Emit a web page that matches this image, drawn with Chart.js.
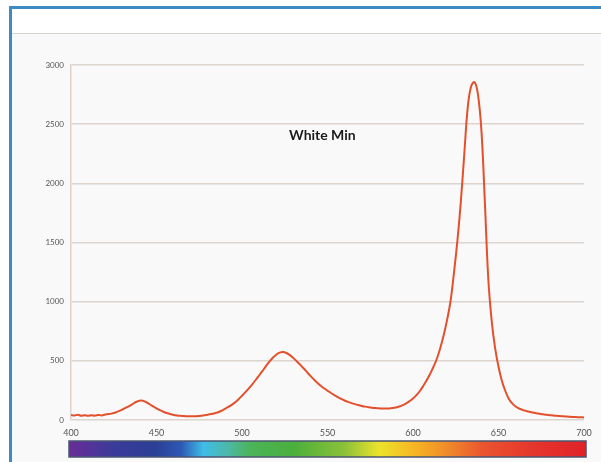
<!DOCTYPE html>
<html>
<head>
<meta charset="utf-8">
<script src="https://cdn.jsdelivr.net/npm/chart.js@4/dist/chart.umd.min.js"></script>
<style>
  html, body { margin: 0; padding: 0; background: #ffffff; }
  #frame { position: absolute; left: 9px; top: 6px; width: 592px; height: 456px;
           border-left: 3px solid #3b8cc5; border-top: 3px solid #3b8cc5; background: #ffffff; }
  #panel { position: absolute; left: 12px; top: 33px; width: 589px; height: 429px;
           border-top: 1px solid #d6d2ce; background: #f9f9f9; }
  #wrap { position: absolute; left: 0; top: 0; width: 601px; height: 462px; }
</style>
</head>
<body>
<div id="frame"></div>
<div id="panel"></div>
<div id="wrap"><canvas id="c" width="601" height="462"></canvas></div>
<script>
// Emission spectrum, 2 nm steps from 400 to 700 nm
const wavelengths = [];
for (let w = 400; w <= 700; w += 2) wavelengths.push(w);

const intensity = [
  42, 38, 44, 36, 41, 35, 40, 37, 43, 39,             // 400-418
  46, 50, 56, 64, 75, 88, 103, 118, 135, 152,         // 420-438
  163, 162, 150, 133, 115, 98, 83, 70, 59, 50,        // 440-458
  43, 38, 35, 33, 32, 31, 31, 33, 36, 41,             // 460-478
  45, 50, 57, 66, 78, 94, 110, 128, 150, 176,         // 480-498
  205, 236, 268, 302, 338, 376, 415, 455, 493, 526,   // 500-518
  552, 569, 574, 566, 548, 524, 497, 468, 437, 405,   // 520-538
  373, 343, 315, 290, 268, 248, 228, 210, 194, 179,   // 540-558
  165, 153, 143, 134, 126, 119, 113, 108, 104, 101,   // 560-578
  99, 97, 97, 98, 101, 106, 114, 125, 140, 160,       // 580-598
  182, 210, 245, 288, 335, 390, 450, 520, 610, 720,   // 600-618
  850, 1010, 1250, 1520, 1850, 2250, 2640, 2820, 2855, 2750, // 620-638
  2450, 1850, 1200, 840, 610, 450, 330, 245, 180, 140, // 640-658
  114, 97, 86, 77, 69, 63, 57, 52, 48, 44,            // 660-678
  41, 38, 35, 33, 31, 29, 27, 25, 24, 23,             // 680-698
  22                                                  // 700
];

const xTicks = [400, 450, 500, 550, 600, 650, 700];
const yTicks = [0, 500, 1000, 1500, 2000, 2500, 3000];
const chartTitle = 'White Min';

// visible spectrum colours for the strip under the axis
const spectrumStops = [
  [400, '#6a2c97'], [425, '#3b3a9a'], [450, '#2b3f96'], [465, '#2d58b5'],
  [478, '#3fbde8'], [492, '#4cb8a8'], [505, '#4cb45a'], [530, '#4aaf3c'],
  [560, '#8cc13a'], [580, '#ece32a'], [600, '#f6b624'], [620, '#ef8a2a'],
  [640, '#ea5530'], [670, '#e5352c'], [700, '#e02228']
];

const points = wavelengths.map((w, i) => ({ x: w, y: intensity[i] }));

const overlay = {
  id: 'overlay',
  afterDraw(chart) {
    const { ctx, chartArea, scales } = chart;
    const xs = scales.x;
    // spectrum strip
    const left = xs.getPixelForValue(400) - 2;
    const right = xs.getPixelForValue(700) + 2;
    const top = chartArea.bottom + 21, h = 16;
    const g = ctx.createLinearGradient(left, 0, right, 0);
    spectrumStops.forEach(([w, c]) => g.addColorStop((w - 400) / 300, c));
    ctx.save();
    ctx.fillStyle = g;
    ctx.fillRect(left, top, right - left, h);
    ctx.strokeStyle = '#4a5670';
    ctx.lineWidth = 1.5;
    ctx.strokeRect(left, top, right - left, h);
    // chart label inside the plot
    ctx.fillStyle = '#1a1a1a';
    ctx.font = 'bold 14px Lato, "Open Sans", sans-serif';
    ctx.textAlign = 'center';
    ctx.textBaseline = 'middle';
    ctx.fillText(chartTitle, xs.getPixelForValue(547), scales.y.getPixelForValue(2405));
    ctx.restore();
  }
};

new Chart(document.getElementById('c'), {
  type: 'line',
  data: {
    datasets: [{
      data: points,
      borderColor: '#e4502c',
      borderWidth: 2,
      pointRadius: 0,
      fill: false,
      tension: 0.4
    }]
  },
  options: {
    responsive: false,
    animation: false,
    events: [],
    layout: { padding: { left: 0, right: 17, top: 65, bottom: 0 } },
    plugins: { legend: { display: false }, tooltip: { enabled: false } },
    scales: {
      x: {
        type: 'linear',
        min: 400, max: 700,
        afterFit(s) { s.height = 42; },
        afterBuildTicks(s) { s.ticks = xTicks.map(v => ({ value: v })); },
        grid: { display: false, drawTicks: false },
        border: { display: false },
        ticks: { padding: 8, color: '#555', font: { family: 'Lato', size: 9 },
                 callback: v => String(v) }
      },
      y: {
        min: 0, max: 3000,
        afterFit(s) { s.width = 71; },
        afterBuildTicks(s) { s.ticks = yTicks.map(v => ({ value: v })); },
        grid: { color: '#dcd4ce', lineWidth: 1.5, drawTicks: false },
        border: { display: true, color: '#dcd4ce', width: 1.5 },
        ticks: { padding: 7, color: '#555', font: { family: 'Lato', size: 8 },
                 callback: v => String(v) }
      }
    }
  },
  plugins: [overlay]
});
</script>
</body>
</html>
